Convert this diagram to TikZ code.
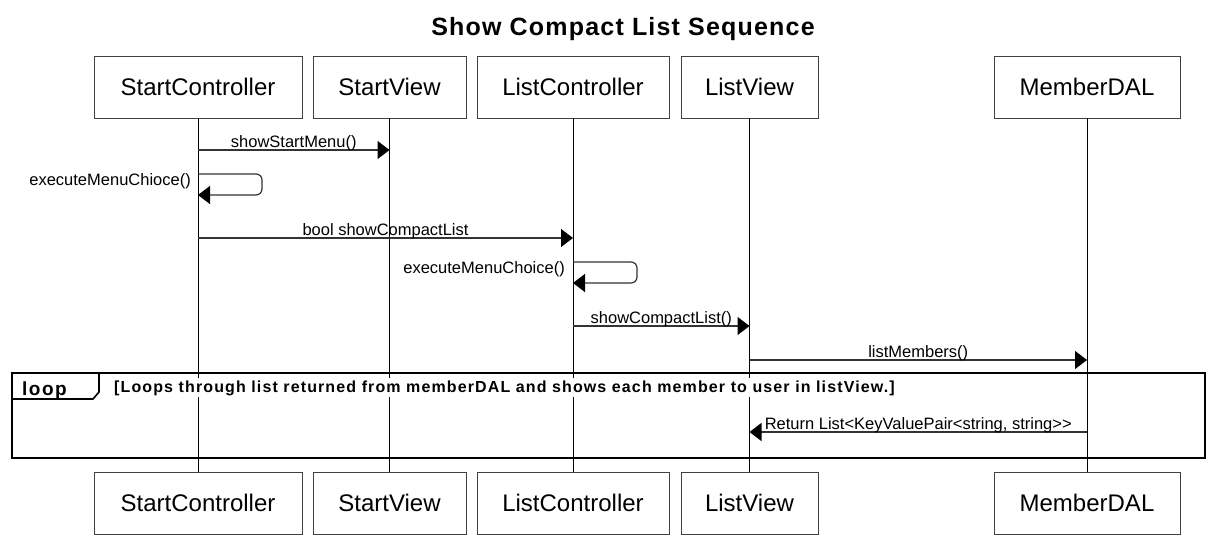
\documentclass[tikz,border=0pt]{standalone}
\usepackage{fontspec}
\setmainfont{Liberation Sans}
\newfontfamily\titlefont[LetterSpace=4.8]{Liberation Sans}
\newfontfamily\guardfont[LetterSpace=7]{Liberation Sans}
\newfontfamily\tagfont[LetterSpace=8]{Liberation Sans}
\usetikzlibrary{arrows.meta}

\begin{document}
\begin{tikzpicture}[x=1pt, y=-1pt,
    lifebox/.style={draw=black!75, line width=0.9pt, minimum height=62pt, inner sep=0pt,
                    font=\fontsize{24}{28}\selectfont},
    lifeline/.style={line width=0.9pt},
    msg/.style={draw=black!80, line width=1.2pt, -{Triangle[length=12pt, width=18pt, color=black]}},
    msgtext/.style={font=\fontsize{16.5}{18}\selectfont, inner sep=0pt, yshift=-1.5pt},
    selfmsg/.style={msg, rounded corners=6pt}]

\useasboundingbox (0,0) rectangle (1216,540);

% Marking title
\node (title) at (623,29) {\fontsize{25}{28}\titlefont\bfseries Show Compact List Sequence};

% Marking participants, top row
\node[lifebox, minimum width=208pt] (sc) at (198,87) {StartController};
\node[lifebox, minimum width=153pt] (sv) at (389.5,87) {StartView};
\node[lifebox, minimum width=192pt] (lc) at (573,87) {ListController};
\node[lifebox, minimum width=137pt] (lv) at (749.5,87) {ListView};
\node[lifebox, minimum width=186pt] (dal) at (1087,87) {MemberDAL};

% Marking participants, bottom row
\node[lifebox, minimum width=208pt] (sc-bot) at (198,503) {StartController};
\node[lifebox, minimum width=153pt] (sv-bot) at (389.5,503) {StartView};
\node[lifebox, minimum width=192pt] (lc-bot) at (573,503) {ListController};
\node[lifebox, minimum width=137pt] (lv-bot) at (749.5,503) {ListView};
\node[lifebox, minimum width=186pt] (dal-bot) at (1087,503) {MemberDAL};

% Drawing lifelines
\foreach \p in {sc,sv,lc,lv,dal}
  \draw[lifeline] (\p.south) -- (\p-bot.north);

% Drawing message showStartMenu
\draw[msg] (sc |- 0,150) -- node[msgtext, above] (m1) {showStartMenu()} (sv |- 0,150);

% Drawing self message on StartController
\draw[selfmsg] (sc |- 0,174) -- ++(64,0) -- ++(0,21) -- (sc |- 0,195);
\node[msgtext, anchor=east] (m2) at ([xshift=-7pt]sc |- 0,180) {executeMenuChioce()};

% Drawing message bool showCompactList
\draw[msg] (sc |- 0,238) -- node[msgtext, above] (m3) {bool showCompactList} (lc |- 0,238);

% Drawing self message on ListController
\draw[selfmsg] (lc |- 0,262) -- ++(64,0) -- ++(0,21) -- (lc |- 0,283);
\node[msgtext, anchor=east] (m4) at ([xshift=-8pt]lc |- 0,268) {executeMenuChoice()};

% Drawing message showCompactList
\draw[msg] (lc |- 0,326) -- node[msgtext, above] (m5) {showCompactList()} (lv |- 0,326);

% Drawing message listMembers
\draw[msg] (lv |- 0,360) -- node[msgtext, above] (m6) {listMembers()} (dal |- 0,360);

% Drawing loop fragment
\draw[line width=2.2pt] (12,373) rectangle (1205,458);
\draw[line width=1.6pt] (12,399) -- (93,399) -- (99,392) -- (99,373);
\node[anchor=base west, inner sep=0pt] (tag) at (22,395) {\fontsize{19}{22}\tagfont\bfseries loop};
\node[anchor=base west, fill=white, inner xsep=1pt, inner ysep=2pt] (guard) at (113,392)
  {\fontsize{16}{18}\guardfont\bfseries [Loops through list returned from memberDAL and shows each member to user in listView.]};

% Drawing return message
\draw[msg] (dal |- 0,432) -- node[msgtext, above] (m7) {Return List<KeyValuePair<string, string>{}>} (lv |- 0,432);

\end{tikzpicture}
\end{document}
